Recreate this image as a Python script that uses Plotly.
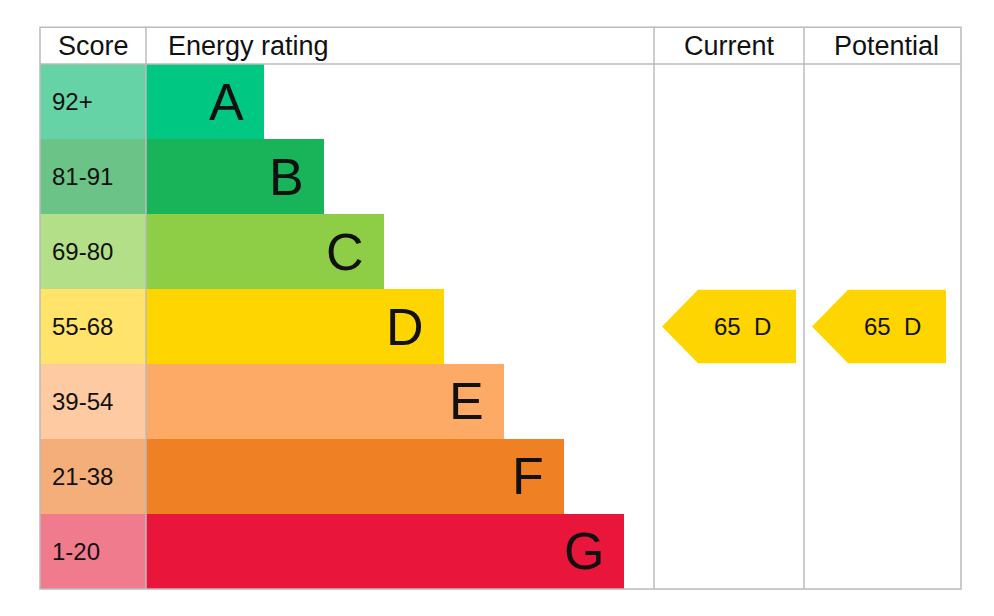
import plotly.graph_objects as go

# EPC bands
letters = ["A", "B", "C", "D", "E", "F", "G"]
scores = ["92+", "81-91", "69-80", "55-68", "39-54", "21-38", "1-20"]
bar_colors = ["#00c781", "#19b459", "#8dce46", "#ffd500", "#fcaa65", "#ef8023", "#e9153b"]
cell_colors = ["#66d3a7", "#6cc387", "#b3df88", "#ffe36a", "#fdcaa2", "#f4ae79", "#f07b8d"]
bar_len = [118, 178, 238, 298, 358, 418, 478]

current = 65
potential = 65
current_band = "D"
potential_band = "D"

font = "Liberation Sans, Arial, sans-serif"
rows = list(range(len(letters)))

fig = go.Figure()
fig.add_trace(go.Bar(y=rows, x=[106] * 7, base=32, orientation="h", width=1,
                     marker=dict(color=cell_colors, line=dict(width=0)), hoverinfo="skip"))
fig.add_trace(go.Bar(y=rows, x=bar_len, base=138, orientation="h", width=1,
                     marker=dict(color=bar_colors, line=dict(width=0)), hoverinfo="skip"))

for i, (l, s, w) in enumerate(zip(letters, scores, bar_len)):
    fig.add_annotation(x=42, y=i, text=s, showarrow=False, xanchor="left",
                       font=dict(family=font, size=24, color="#111"))
    fig.add_annotation(x=138 + w - 18, y=i, text=l, showarrow=False, xanchor="right",
                       font=dict(family=font, size=52, color="#111"))

def arrow(x0, value, band):
    r = letters.index(band)
    xs = [x0, x0 + 36, x0 + 134, x0 + 134, x0 + 36, x0]
    ys = [r, r - 0.49, r - 0.49, r + 0.49, r + 0.49, r]
    fig.add_trace(go.Scatter(x=xs, y=ys, fill="toself", mode="none",
                             fillcolor=bar_colors[r], hoverinfo="skip"))
    fig.add_annotation(x=x0 + 80, y=r, text=f"{value}  {band}", showarrow=False,
                       font=dict(family=font, size=24, color="#111"))

arrow(654, current, current_band)
arrow(804, potential, potential_band)

line = dict(color="#bbbbbb", width=1.5)
top, hdr, bot = -1.0, -0.5, 6.5
fig.add_shape(type="rect", x0=32, x1=953, y0=top + 0.01, y1=bot, line=line)
fig.add_shape(type="line", x0=32, x1=953, y0=hdr, y1=hdr, line=line)
for xv in [138, 646, 796]:
    fig.add_shape(type="line", x0=xv, x1=xv, y0=top, y1=bot, line=line)

for xv, t in [(85, "Score"), (158, "Energy rating"), (721, "Current"), (878, "Potential")]:
    fig.add_annotation(x=xv, y=-0.74, text=t, showarrow=False,
                       xanchor="left" if t == "Energy rating" else "center",
                       font=dict(family=font, size=27, color="#111"))

fig.update_layout(
    width=994, height=616, margin=dict(l=0, r=0, t=0, b=0),
    plot_bgcolor="white", paper_bgcolor="white", showlegend=False, barmode="overlay",
    xaxis=dict(range=[0, 994], visible=False, fixedrange=True),
    yaxis=dict(range=[6.967, -1.247], visible=False, fixedrange=True),
)
fig.write_html("out.html")
